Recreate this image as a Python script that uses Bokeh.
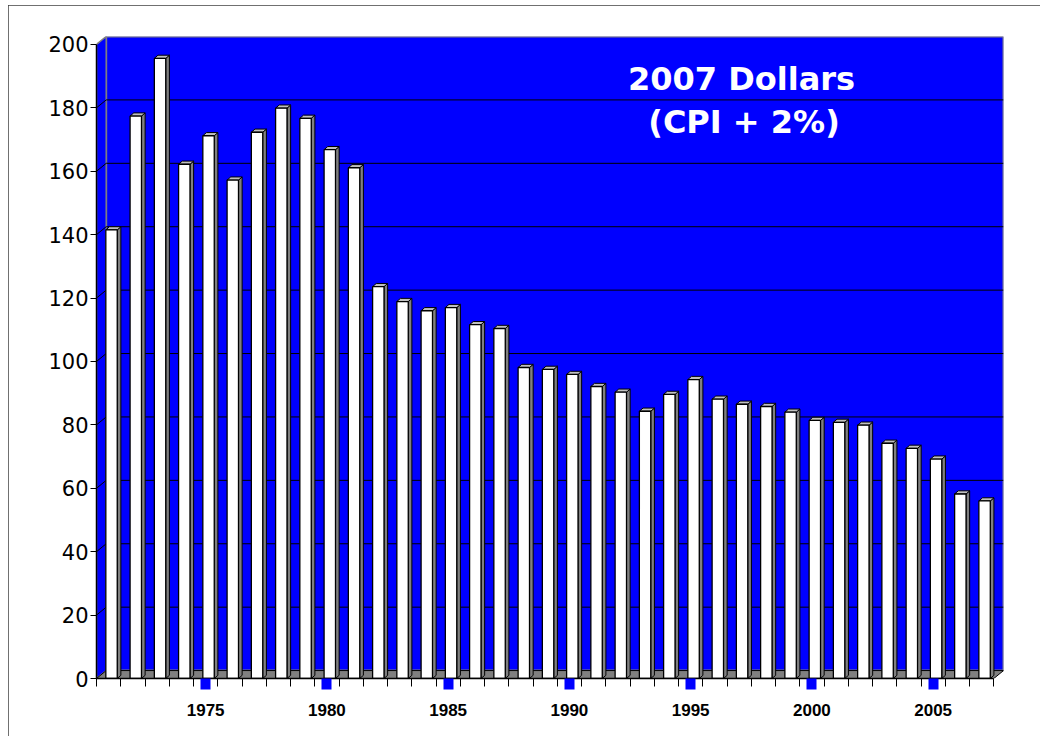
from bokeh.plotting import figure
from bokeh.models import Range1d, FixedTicker, LabelSet, Label, ColumnDataSource
from bokeh.embed import file_html
from bokeh.resources import INLINE

# ---------------- data ----------------
years = [1971, 1972, 1973, 1974, 1975, 1976, 1977, 1978, 1979, 1980,
         1981, 1982, 1983, 1984, 1985, 1986, 1987, 1988, 1989, 1990,
         1991, 1992, 1993, 1994, 1995, 1996, 1997, 1998, 1999, 2000,
         2001, 2002, 2003, 2004, 2005, 2006, 2007]
positions = list(range(1, len(years) + 1))
values = [141.5, 177.4, 195.6, 162.2, 171.2, 157.2, 172.3, 179.9, 176.7, 166.8,
          161.1, 123.6, 118.9, 116.0, 117.0, 111.6, 110.4, 98.1, 97.5, 95.9,
          92.1, 90.3, 84.3, 89.6, 94.3, 88.1, 86.5, 85.8, 84.0, 81.4,
          80.8, 79.9, 74.2, 72.6, 69.2, 58.2, 56.0]
year_ticks = [5, 10, 15, 20, 25, 30, 35]
pale_ticks = [1, 3, 5, 7, 9, 11, 13, 15, 17, 19, 21, 23, 25, 27, 29, 31, 33, 35, 37]
pale_labels = ["1", "3", "5", "7", "9", "11", "13", "15", "17", "19", "21",
               "23", "25", "27", "29", "31", "33", "35", "37"]
y_ticks = [0, 20, 40, 60, 80, 100, 120, 140, 160, 180, 200]
title_lines = ["2007 Dollars", "(CPI + 2%)"]

# ---------------- style ----------------
DX, DY = 0.4, 2.5          # depth of the 3-D wall / floor (data units)
BW, SHIFT = 0.47, 0.12     # bar width and shift
SX, SY = 0.15, 1.0         # bar depth
X0, X1 = 0.5, len(years) + 0.5
YMAX = 200
BLUE = "#0000FF"

p = figure(width=1032, height=731, output_backend="svg", toolbar_location=None,
           x_range=Range1d(X0, X1 + DX), y_range=Range1d(0, YMAX + DY),
           min_border_left=88, min_border_right=37, min_border_top=31,
           min_border_bottom=58, background_fill_color="white",
           border_fill_color="white", outline_line_color=None)
p.styles = {"outline": "2px solid #404040", "outline-offset": "-2px",
            "margin-left": "8px", "margin-top": "5px"}
p.grid.visible = False

# back wall
p.quad(left=[X0 + DX], right=[X1 + DX], bottom=[DY], top=[YMAX + DY],
       fill_color=BLUE, line_color="#808080", line_width=2)
# left side wall
p.patch([X0, X0, X0 + DX, X0 + DX], [0, YMAX, YMAX + DY, DY],
        fill_color=BLUE, line_color="#808080", line_width=1.5)
# gridlines on walls
g = y_ticks[1:-1]
p.segment(x0=[X0 + DX] * len(g), y0=[v + DY for v in g],
          x1=[X1 + DX] * len(g), y1=[v + DY for v in g], line_color="black", line_width=1)
p.segment(x0=[X0] * len(g), y0=g, x1=[X0 + DX] * len(g), y1=[v + DY for v in g],
          line_color="black", line_width=1)
# floor
p.patch([X0, X1, X1 + DX, X0 + DX], [0, 0, DY, DY],
        fill_color="#808080", line_color="black", line_width=1)

# bars
lefts = [x - BW / 2 + SHIFT for x in positions]
rights = [x + BW / 2 + SHIFT for x in positions]
side_xs = [[r, r + SX, r + SX, r] for r in rights]
side_ys = [[0, SY, v + SY, v] for v in values]
cap_xs = [[l, l + SX, r + SX, r] for l, r in zip(lefts, rights)]
cap_ys = [[v, v + SY, v + SY, v] for v in values]
p.patches(side_xs, side_ys, fill_color="#808080", line_color="black", line_width=1)
p.patches(cap_xs, cap_ys, fill_color="#C0C0C0", line_color="black", line_width=1)
p.quad(left=lefts, right=rights, bottom=[0] * len(values), top=values,
       fill_color="white", line_color="black", line_width=1.3)

# y axis
ya = p.yaxis[0]
ya.ticker = FixedTicker(ticks=y_ticks)
ya.bounds = (0, YMAX)
ya.axis_line_color = "black"
ya.axis_line_width = 1.5
ya.major_tick_out = 6
ya.major_tick_in = 0
ya.major_tick_line_color = "black"
ya.minor_tick_line_color = None
ya.major_label_standoff = 2
ya.major_label_text_font = "DejaVu Sans"
ya.major_label_text_font_size = "21px"
ya.major_label_text_color = "black"

# x axis
xa = p.xaxis[0]
xa.ticker = FixedTicker(ticks=year_ticks, minor_ticks=[k + 0.5 for k in range(0, len(years) + 1)])
xa.bounds = (X0, X1)
xa.axis_line_color = "black"
xa.axis_line_width = 1.5
xa.major_tick_line_color = BLUE
xa.major_tick_line_width = 10
xa.major_tick_out = 11
xa.major_tick_in = 0
xa.minor_tick_line_color = "black"
xa.minor_tick_out = 8
xa.minor_tick_in = 0
xa.major_label_overrides = {t: str(years[t - 1]) for t in year_ticks}
xa.major_label_standoff = 14
xa.major_label_text_font = "Liberation Sans"
xa.major_label_text_font_style = "bold"
xa.major_label_text_font_size = "17px"
xa.major_label_text_color = "black"

# pale index labels under the axis
pale_src = ColumnDataSource(dict(x=pale_ticks, y=[-8.1] * len(pale_ticks), text=pale_labels))
p.add_layout(LabelSet(x="x", y="y", text="text", source=pale_src,
                      text_align="center", text_baseline="middle",
                      text_font="Liberation Sans", text_font_size="17px",
                      text_color="#FFFFCC"))

# title inside the chart
p.add_layout(Label(x=27.1, y=189.0, text=title_lines[0], text_align="center",
                   text_baseline="middle", text_font="DejaVu Sans", text_font_style="bold",
                   text_font_size="32px", text_color="white"))
p.add_layout(Label(x=27.2, y=175.4, text=title_lines[1], text_align="center",
                   text_baseline="middle", text_font="DejaVu Sans", text_font_style="bold",
                   text_font_size="32px", text_color="white"))

open("out.html", "w").write(file_html(p, INLINE))
